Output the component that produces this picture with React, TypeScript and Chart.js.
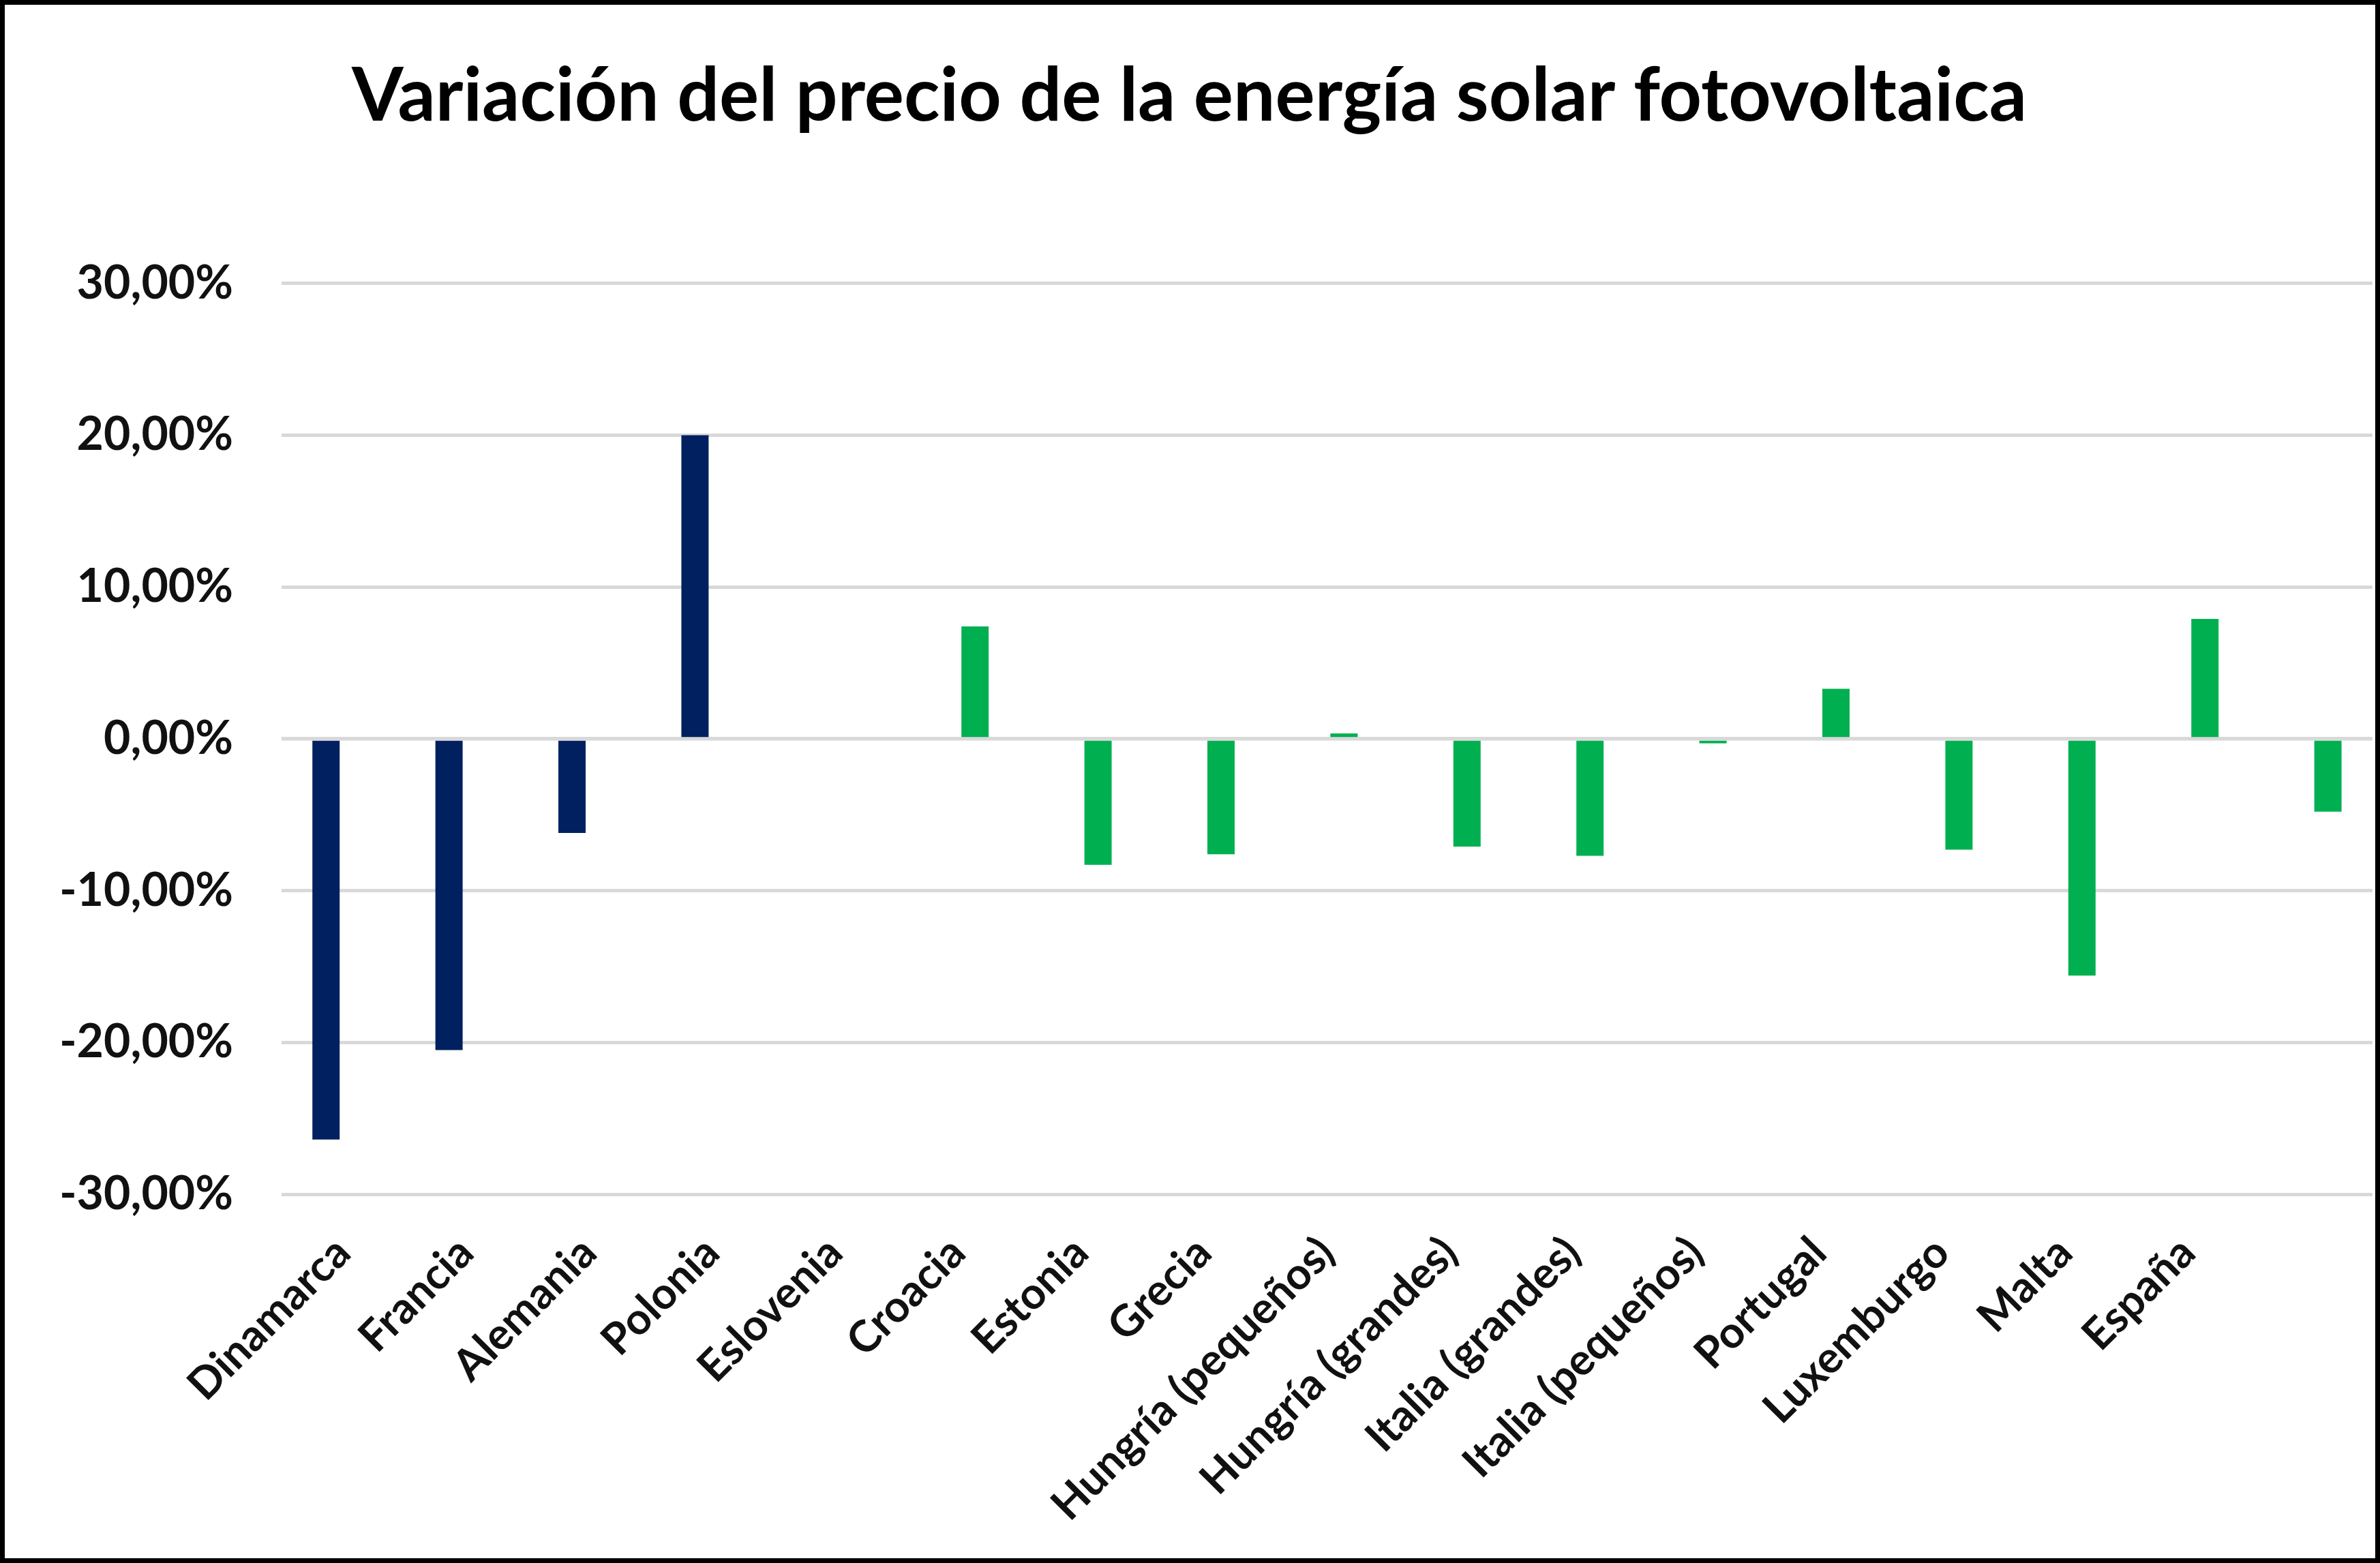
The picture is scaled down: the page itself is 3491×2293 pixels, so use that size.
import { useEffect, useRef } from 'react';
import { Chart, registerables } from 'chart.js';

Chart.register(...registerables);

const chartTitle = 'Variación del precio de la energía solar fotovoltaica';

const categories = [
  'Dinamarca',
  'Francia',
  'Alemania',
  'Polonia',
  'Eslovenia',
  'Croacia',
  'Estonia',
  'Grecia',
  'Hungría (pequeños)',
  'Hungría (grandes)',
  'Italia (grandes)',
  'Italia (pequeños)',
  'Portugal',
  'Luxemburgo',
  'Malta',
  'España',
  '',
];

// percentages
const blueSeries = [-26.4, -20.5, -6.2, 20.0, 0, null, null, null, null, null, null, null, null, null, null, null, null];
const greenSeries = [null, null, null, null, null, 7.4, -8.3, -7.6, 0.35, -7.1, -7.7, -0.3, 3.3, -7.3, -15.6, 7.9, -4.8];

const yTicks = [-30, -20, -10, 0, 10, 20, 30];

const GRID = '#d9d9d9';

// excel draws the horizontal axis over the bars
const zeroLine = {
  id: 'zeroLine',
  afterDatasetsDraw(chart: any) {
    const { ctx, chartArea, scales } = chart;
    const y = scales.y.getPixelForValue(0);
    ctx.save();
    ctx.strokeStyle = GRID;
    ctx.lineWidth = 5;
    ctx.beginPath();
    ctx.moveTo(chartArea.left, y);
    ctx.lineTo(chartArea.right, y);
    ctx.stroke();
    ctx.restore();
  },
};

const App = () => {
  const canvasRef = useRef<HTMLCanvasElement | null>(null);

  useEffect(() => {
    document.body.style.margin = '0';
    const canvas = canvasRef.current;
    if (!canvas) return;

    const chart = new Chart(canvas, {
      type: 'bar',
      data: {
        labels: categories,
        datasets: [
          {
            data: blueSeries,
            backgroundColor: '#002060',
            categoryPercentage: 0.554,
            barPercentage: 0.8,
          },
          {
            data: greenSeries,
            backgroundColor: '#00b050',
            categoryPercentage: 0.554,
            barPercentage: 0.8,
          },
        ],
      },
      options: {
        animation: false,
        responsive: true,
        maintainAspectRatio: false,
        layout: { padding: { left: 0, right: 2, top: 0, bottom: 0 } },
        plugins: {
          legend: { display: false },
          tooltip: { enabled: false },
          title: {
            display: true,
            text: chartTitle,
            color: '#000',
            font: { family: 'Lato', size: 109, weight: 'bold', lineHeight: 1.2 },
            padding: { top: 69, bottom: 209 },
          },
        },
        scales: {
          x: {
            grid: { display: false },
            border: { display: false },
            ticks: {
              color: '#111',
              font: { family: 'Lato', size: 64, weight: 'bold' },
              minRotation: 45,
              maxRotation: 45,
              autoSkip: false,
              padding: 40,
            },
            afterFit: (scale: any) => {
              scale.height = 534;
            },
          },
          y: {
            min: -30,
            max: 30,
            grid: { color: GRID, lineWidth: 5, drawTicks: false },
            border: { display: false },
            afterBuildTicks: (scale: any) => {
              scale.ticks = yTicks.map((v) => ({ value: v }));
            },
            ticks: {
              color: '#111',
              font: { family: 'Lato', size: 68, weight: 'bold' },
              padding: 71,
              callback: (v: any) => Number(v).toFixed(2).replace('.', ',') + '%',
            },
            afterFit: (scale: any) => {
              scale.width = 406;
            },
          },
        },
      },
      plugins: [zeroLine],
    });

    return () => {
      chart.destroy();
    };
  }, []);

  return (
    <div
      style={{
        width: 3491,
        height: 2293,
        boxSizing: 'border-box',
        border: '7px solid #000',
        background: '#fff',
      }}
    >
      <div style={{ position: 'relative', width: 3477, height: 2279 }}>
        <canvas ref={canvasRef} />
      </div>
    </div>
  );
};

export default App;
